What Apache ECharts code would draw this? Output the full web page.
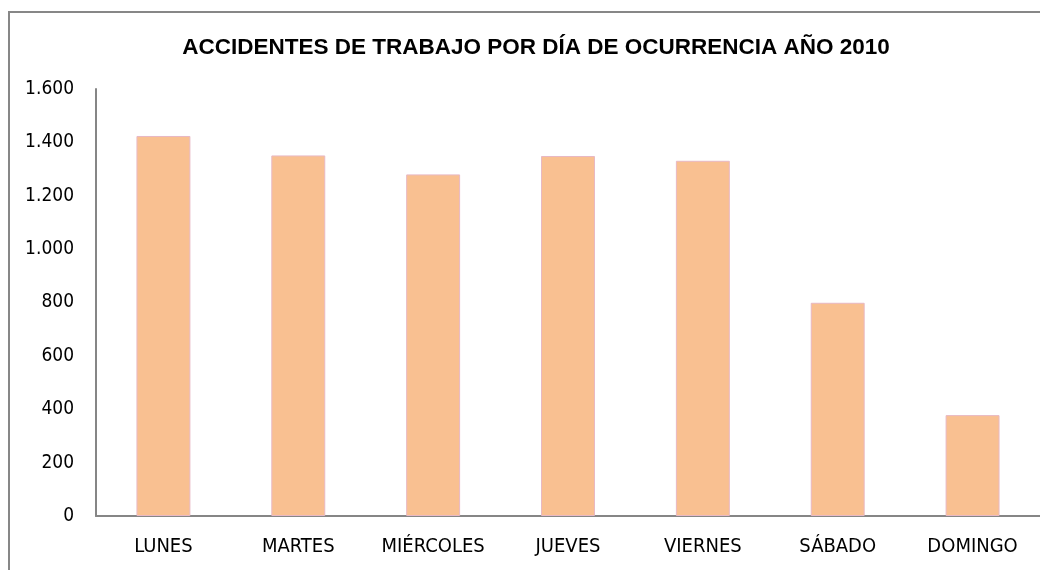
<!DOCTYPE html>
<html>
<head>
<meta charset="utf-8">
<script src="https://cdn.jsdelivr.net/npm/echarts@6/dist/echarts.min.js"></script>
<style>html,body{margin:0;padding:0;background:#fff;}#c{width:1040px;height:570px;}</style>
</head>
<body>
<div id="c"></div>
<script>
const categories = ['LUNES', 'MARTES', 'MIÉRCOLES', 'JUEVES', 'VIERNES', 'SÁBADO', 'DOMINGO'];
const accidentes = [1424, 1351, 1280, 1349, 1331, 799, 378];
const yTicks = [0, 200, 400, 600, 800, 1000, 1200, 1400, 1600];

const chart = echarts.init(document.getElementById('c'));
const narrow = "'DejaVu Sans Condensed', 'Liberation Sans', sans-serif";
chart.setOption({
  animation: false,
  backgroundColor: '#fff',
  title: {
    text: 'ACCIDENTES DE TRABAJO POR DÍA DE OCURRENCIA AÑO 2010',
    left: 531, top: 31, textAlign: 'center',
    textStyle: { fontFamily: 'Liberation Sans', fontWeight: 'bold', fontSize: 22.5, color: '#000' }
  },
  graphic: [{
    type: 'rect', shape: { x: 9, y: 12, width: 1040, height: 600 },
    style: { fill: 'none', stroke: '#878787', lineWidth: 2 }, silent: true
  }],
  grid: { left: 96, right: -1, top: 89, bottom: 54, containLabel: false },
  xAxis: {
    type: 'category', data: categories,
    axisLine: { lineStyle: { color: '#868686', width: 2 } },
    axisTick: { show: false },
    axisLabel: { fontFamily: narrow, fontSize: 20, color: '#000', margin: 21 }
  },
  yAxis: {
    type: 'value', min: yTicks[0], max: yTicks[yTicks.length - 1], interval: 200,
    axisLine: { show: true, lineStyle: { color: '#868686', width: 2 } },
    axisTick: { show: false },
    splitLine: { show: false },
    axisLabel: {
      fontFamily: narrow, fontSize: 19, color: '#000', margin: 22,
      formatter: v => v.toString().replace(/\B(?=(\d{3})+(?!\d))/g, '.')
    }
  },
  series: [{
    type: 'bar', data: accidentes, barWidth: '40%',
    itemStyle: { color: '#F9C091', borderColor: '#E8B8C4', borderWidth: 1 }
  }]
});
</script>
</body>
</html>
